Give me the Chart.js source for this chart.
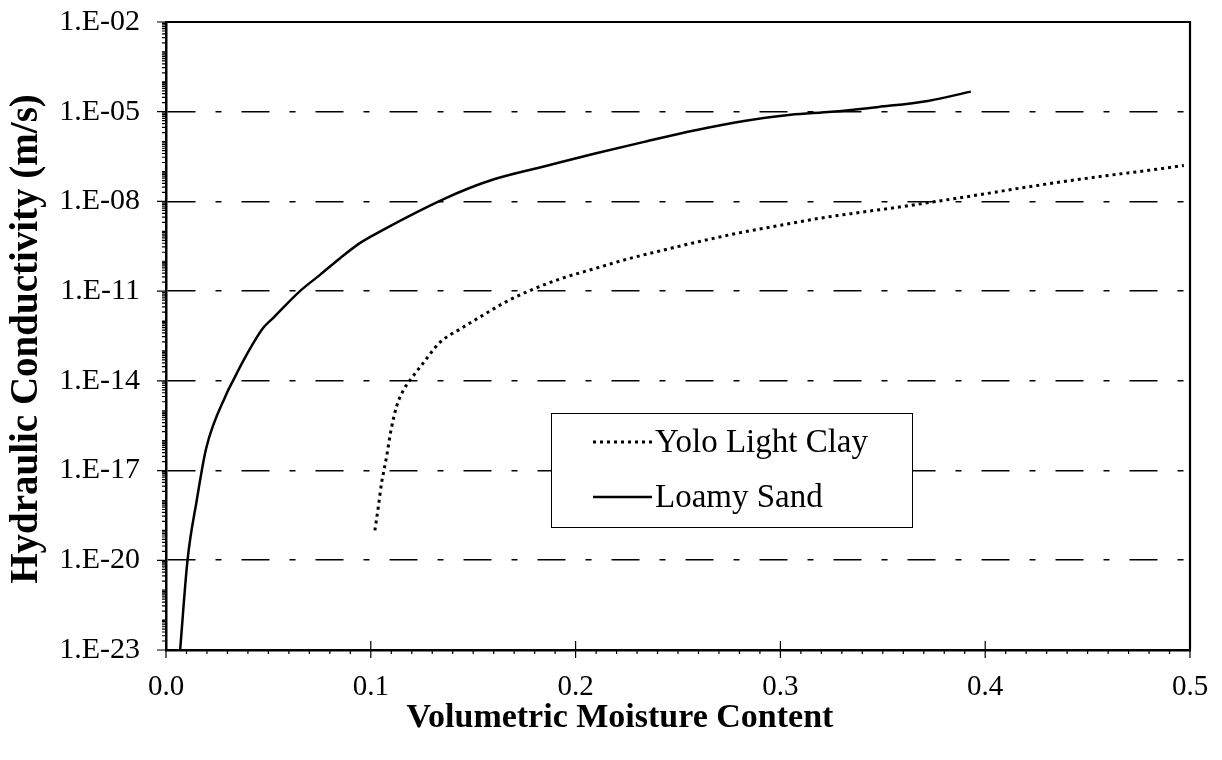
<!DOCTYPE html>
<html>
<head>
<meta charset="utf-8">
<script src="https://cdn.jsdelivr.net/npm/chart.js@4/dist/chart.umd.min.js"></script>
<style>
  html, body { margin: 0; padding: 0; background: #fff; }
  #wrap { width: 1222px; height: 760px; position: relative; }
</style>
</head>
<body>
<div id="wrap"><canvas id="c" width="1222" height="760"></canvas></div>
<script>
// ---- data ----
const seriesNames = ['Yolo Light Clay', 'Loamy Sand'];

const yoloTheta = [0.102, 0.1037, 0.1053, 0.1064, 0.1078, 0.110, 0.1126, 0.116, 0.120, 0.125, 0.134, 0.144, 0.155, 0.166, 0.178, 0.192, 0.209, 0.225, 0.241, 0.26, 0.28, 0.30, 0.32, 0.34, 0.36, 0.38, 0.40, 0.42, 0.44, 0.46, 0.48, 0.497];
const yoloK = [1.0e-19, 6.3e-19, 4.0e-18, 1.0e-17, 3.2e-17, 2.5e-16, 1.4e-15, 5.0e-15, 1.26e-14, 3.5e-14, 2.0e-13, 5.6e-13, 1.6e-12, 4.4e-12, 1.07e-11, 2.5e-11, 5.6e-11, 1.17e-10, 2.2e-10, 4.5e-10, 8.9e-10, 1.6e-9, 2.8e-9, 4.4e-9, 6.8e-9, 1.1e-8, 1.8e-8, 3.0e-8, 4.8e-8, 7.4e-8, 1.1e-7, 1.6e-7];

const loamyTheta = [0.0069, 0.0105, 0.015, 0.0196, 0.0294, 0.0327, 0.0376, 0.0474, 0.0523, 0.0654, 0.0752, 0.085, 0.0948, 0.106, 0.1225, 0.1356, 0.147, 0.1605, 0.185, 0.2095, 0.234, 0.2585, 0.283, 0.305, 0.325, 0.348, 0.372, 0.393];
const loamyK = [1.0e-23, 1.0e-20, 1.0e-18, 5.5e-17, 3.5e-15, 1.0e-14, 4.5e-14, 5.8e-13, 1.26e-12, 1.0e-11, 3.5e-11, 1.26e-10, 4.1e-10, 1.12e-9, 4.4e-9, 1.2e-8, 2.6e-8, 5.6e-8, 1.5e-7, 4.0e-7, 1.0e-6, 2.4e-6, 5.0e-6, 7.9e-6, 1.0e-5, 1.45e-5, 2.3e-5, 4.7e-5];

const xTicks = [0.0, 0.1, 0.2, 0.3, 0.4, 0.5];
const yTickExps = [-23, -20, -17, -14, -11, -8, -5, -2];

const xTitle = 'Volumetric Moisture Content';
const yTitle = 'Hydraulic Conductivity (m/s)';

// ---- helpers ----
const FONT = "'Liberation Serif', 'Times New Roman', serif";
const yTickValues = yTickExps.map(e => Number('1e' + e));
function fmtK(v) {
  const e = Math.round(Math.log10(v));
  return '1.E' + (e < 0 ? '-' : '+') + String(Math.abs(e)).padStart(2, '0');
}
const toPts = (xs, ys) => xs.map((x, i) => ({ x: x, y: ys[i] }));

// frame + minor ticks + axis titles
const framePlugin = {
  id: 'frame',
  afterDraw(chart) {
    const { ctx, chartArea: a, scales } = chart;
    const xs = scales.x, ys = scales.y;
    ctx.save();
    ctx.strokeStyle = '#000';
    ctx.lineWidth = 2.2;
    ctx.beginPath();
    ctx.moveTo(a.left, a.top); ctx.lineTo(a.right, a.top); ctx.lineTo(a.right, a.bottom);
    ctx.stroke();
    ctx.lineWidth = 1.2;
    ctx.beginPath();
    for (let e = yTickExps[0]; e < yTickExps[yTickExps.length - 1]; e++) {
      for (let k = 1; k <= 9; k++) {
        const v = k * Math.pow(10, e);
        const p = ys.getPixelForValue(v);
        const len = (k === 1 && yTickExps.includes(e)) ? 9 : 4;
        ctx.moveTo(a.left - len, p); ctx.lineTo(a.left, p);
      }
    }
    const ptop = ys.getPixelForValue(yTickValues[yTickValues.length - 1]);
    ctx.moveTo(a.left - 9, ptop); ctx.lineTo(a.left, ptop);
    const xMin = xTicks[0], xMax = xTicks[xTicks.length - 1];
    const nMinor = Math.round((xMax - xMin) / 0.01);
    for (let i = 0; i <= nMinor; i++) {
      const v = xMin + i * 0.01;
      const p = xs.getPixelForValue(v);
      if (i % 10 === 0) { ctx.moveTo(p, a.bottom - 9); ctx.lineTo(p, a.bottom + 8); }
      else { ctx.moveTo(p, a.bottom); ctx.lineTo(p, a.bottom + 4); }
    }
    ctx.stroke();

    ctx.fillStyle = '#000';
    ctx.textAlign = 'center';
    ctx.textBaseline = 'middle';
    ctx.font = "bold 34px " + FONT;
    ctx.fillText(xTitle, 620, 718);
    ctx.save();
    ctx.translate(27, (a.top + a.bottom) / 2 + 3);
    ctx.rotate(-Math.PI / 2);
    ctx.font = "bold 39px " + FONT;
    ctx.fillText(yTitle, 0, 0);
    ctx.restore();
    ctx.restore();
  }
};

// legend box inside the plot
const legendPlugin = {
  id: 'boxLegend',
  afterDraw(chart) {
    const { ctx } = chart;
    const box = { x: 551, y: 413, w: 361, h: 114 };
    ctx.save();
    ctx.strokeStyle = '#000';
    ctx.lineWidth = 1;
    ctx.fillStyle = '#fff';
    ctx.fillRect(box.x, box.y, box.w, box.h);
    ctx.strokeRect(box.x + 0.5, box.y + 0.5, box.w, box.h);
    chart.data.datasets.forEach((ds, i) => {
      const cy = box.y + 29 + i * 55;
      ctx.beginPath();
      ctx.lineWidth = ds.borderWidth;
      ctx.setLineDash(ds.borderDash || []);
      ctx.moveTo(box.x + 42, cy); ctx.lineTo(box.x + 101, cy);
      ctx.stroke();
      ctx.setLineDash([]);
      ctx.fillStyle = '#000';
      ctx.font = "33px " + FONT;
      ctx.textBaseline = 'middle';
      ctx.textAlign = 'left';
      ctx.fillText(ds.label, box.x + 104, cy + 1);
    });
    ctx.restore();
  }
};

new Chart(document.getElementById('c'), {
  type: 'scatter',
  data: {
    datasets: [
      { label: seriesNames[0], data: toPts(yoloTheta, yoloK), showLine: true, borderColor: '#000', borderWidth: 3, borderDash: [3, 4], pointRadius: 0, cubicInterpolationMode: 'monotone', fill: false },
      { label: seriesNames[1], data: toPts(loamyTheta, loamyK), showLine: true, borderColor: '#000', borderWidth: 2.5, pointRadius: 0, cubicInterpolationMode: 'monotone', fill: false }
    ]
  },
  options: {
    responsive: false,
    animation: false,
    layout: { padding: { left: 0, right: 32, top: 22, bottom: 0 } },
    plugins: { legend: { display: false }, tooltip: { enabled: false } },
    scales: {
      x: {
        type: 'linear', min: xTicks[0], max: xTicks[xTicks.length - 1],
        afterBuildTicks: s => { s.ticks = xTicks.map(v => ({ value: v })); },
        afterFit: s => { s.height = 110; s.paddingLeft = 0; s.paddingRight = 0; },
        grid: { display: false, drawTicks: false },
        border: { display: true, color: '#000', width: 2.5 },
        ticks: { color: '#000', padding: 20, maxRotation: 0, font: { family: FONT, size: 29 }, callback: v => Number(v).toFixed(1) },
        title: { display: false }
      },
      y: {
        type: 'logarithmic', min: yTickValues[0], max: yTickValues[yTickValues.length - 1],
        afterBuildTicks: s => { s.ticks = yTickValues.map(v => ({ value: v })); },
        afterFit: s => { s.width = 166; s.paddingTop = 0; s.paddingBottom = 0; },
        grid: {
          display: true, drawTicks: false, lineWidth: 1.6,
          color: c => (c.tick && (c.tick.value === yTickValues[0] || c.tick.value === yTickValues[yTickValues.length - 1])) ? 'rgba(0,0,0,0)' : '#000'
        },
        border: { display: true, color: '#000', width: 2.5, dash: [28, 20, 6, 20] },
        ticks: { color: '#000', padding: 26, font: { family: FONT, size: 30 }, callback: v => fmtK(v) },
        title: { display: false }
      }
    }
  },
  plugins: [framePlugin, legendPlugin]
});
</script>
</body>
</html>
